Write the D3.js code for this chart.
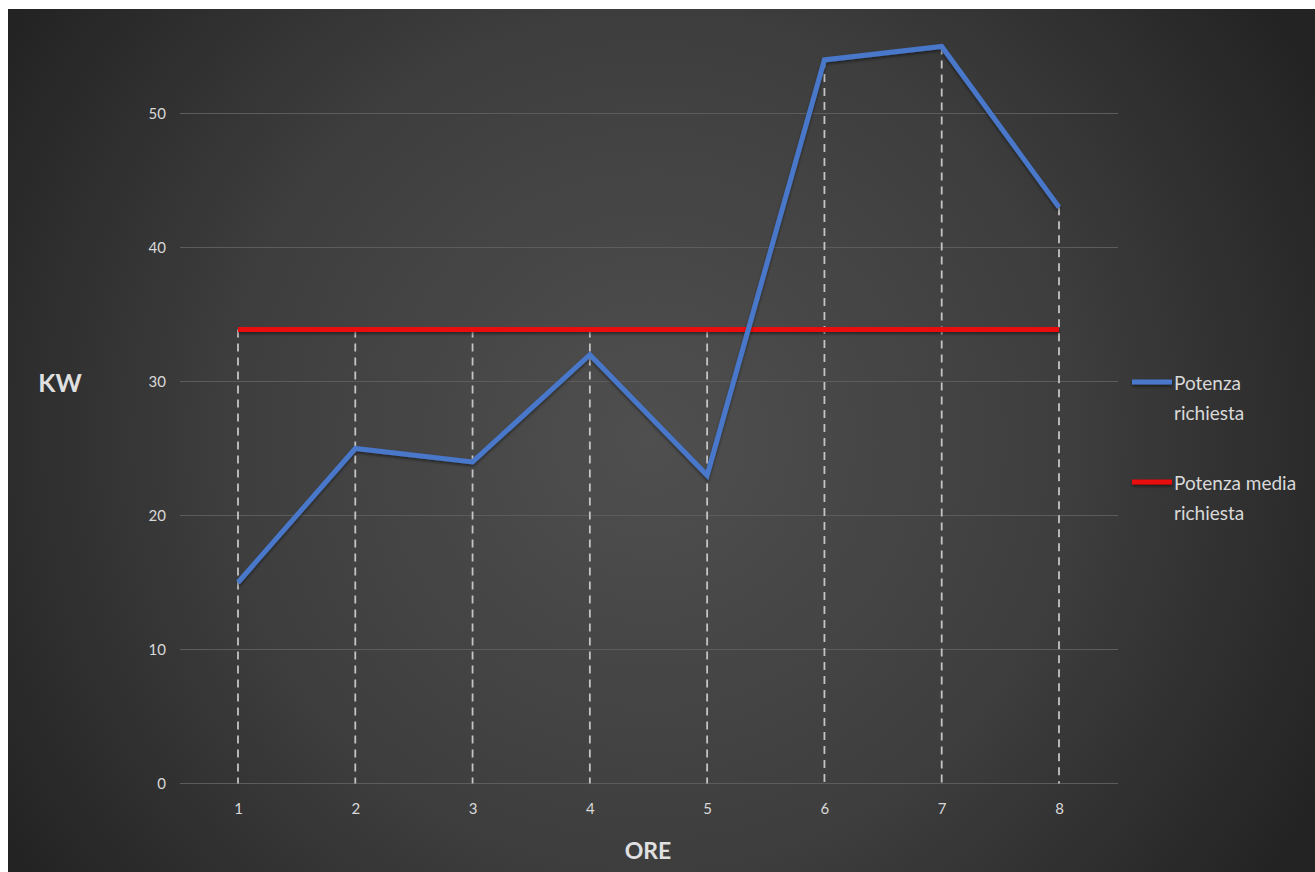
<!DOCTYPE html>
<html><head><meta charset="utf-8">
<script src="https://cdn.jsdelivr.net/npm/d3@7"></script>
<style>html,body{margin:0;padding:0;background:#fff;overflow:hidden}</style>
</head><body>
<script>
const categories = ["1","2","3","4","5","6","7","8"];
const potenzaRichiesta = [15, 25, 24, 32, 23, 54, 55, 43];
const potenzaMedia = [33.875, 33.875, 33.875, 33.875, 33.875, 33.875, 33.875, 33.875];
const yTicks = [0, 10, 20, 30, 40, 50];
const seriesNames = [["Potenza","richiesta"],["Potenza media","richiesta"]];

const W = 1315, H = 872;
const svg = d3.select("body").append("svg").attr("width", W).attr("height", H);
const defs = svg.append("defs");
const grad = defs.append("radialGradient").attr("id","bg")
  .attr("gradientUnits","userSpaceOnUse").attr("cx",650).attr("cy",440).attr("r",760);
grad.append("stop").attr("offset","0%").attr("stop-color","#4f4f4f");
grad.append("stop").attr("offset","55%").attr("stop-color","#3e3e3e");
grad.append("stop").attr("offset","100%").attr("stop-color","#232323");
const sh = defs.append("filter").attr("id","sh").attr("filterUnits","userSpaceOnUse")
  .attr("x",0).attr("y",0).attr("width",W).attr("height",H);
sh.append("feDropShadow").attr("dx",0).attr("dy",2).attr("stdDeviation",1.5).attr("flood-color","#000").attr("flood-opacity",0.45);

svg.append("rect").attr("x",8).attr("y",9).attr("width",W-8).attr("height",H-9).attr("fill","url(#bg)");

const x = d3.scalePoint().domain(categories).range([238, 1059]);
const y = d3.scaleLinear().domain([0, 50]).range([783.5, 113.5]);
const font = "Lato, 'Open Sans', sans-serif";

// gridlines
svg.append("g").selectAll("line").data(yTicks).join("line")
  .attr("x1",180).attr("x2",1118).attr("y1",d=>y(d)).attr("y2",d=>y(d))
  .attr("stroke","#5c5c5c").attr("stroke-width",1.2);

// y axis labels
const ya = svg.append("g").attr("transform","translate(166,0)")
  .call(d3.axisLeft(y).tickValues(yTicks).tickSize(0).tickPadding(0));
ya.select(".domain").remove();
ya.selectAll("text").attr("fill","#d9d9d9").style("font-family",font).style("font-size","15px");

// x axis labels
const xa = svg.append("g").attr("transform","translate(0,803)")
  .call(d3.axisBottom(x).tickSize(0).tickPadding(0));
xa.select(".domain").remove();
xa.selectAll("text").attr("fill","#d9d9d9").style("font-family",font).style("font-size","15px");

// drop lines
svg.append("g").selectAll("line").data(categories).join("line")
  .attr("x1",d=>x(d)).attr("x2",d=>x(d))
  .attr("y1",(d,i)=>y(Math.max(potenzaRichiesta[i], potenzaMedia[i])))
  .attr("y2",y(0))
  .attr("stroke","#c4c4c4").attr("stroke-width",1.8).attr("stroke-dasharray","8,6");

const line = d3.line().x((d,i)=>x(categories[i])).y(d=>y(d));
svg.append("path").datum(potenzaMedia).attr("d",line)
  .attr("fill","none").attr("stroke","#ea0a0a").attr("stroke-width",5).attr("filter","url(#sh)");
svg.append("path").datum(potenzaRichiesta).attr("d",line)
  .attr("fill","none").attr("stroke","#4877c9").attr("stroke-width",5)
  .attr("stroke-linejoin","miter").attr("filter","url(#sh)");

// axis titles
svg.append("text").attr("x",60).attr("y",382).attr("text-anchor","middle").attr("dominant-baseline","central")
  .attr("fill","#e0e0e0").style("font-family",font).style("font-weight","bold").style("font-size","25px").text("KW");
svg.append("text").attr("x",648).attr("y",850).attr("text-anchor","middle").attr("dominant-baseline","central")
  .attr("fill","#e0e0e0").style("font-family",font).style("font-weight","bold").style("font-size","23px").text("ORE");

// legend
const legColors = ["#4877c9","#ea0a0a"];
const legY = [382, 482];
seriesNames.forEach((lines, k) => {
  const g = svg.append("g");
  g.append("line").attr("x1",1132).attr("x2",1172).attr("y1",legY[k]).attr("y2",legY[k])
    .attr("stroke",legColors[k]).attr("stroke-width",5).attr("filter","url(#sh)");
  lines.forEach((t, j) => {
    g.append("text").attr("x",1174).attr("y",legY[k] + j*30).attr("dominant-baseline","central")
      .attr("fill","#d9d9d9").style("font-family",font).style("font-size","19px").text(t);
  });
});
</script>
</body></html>
